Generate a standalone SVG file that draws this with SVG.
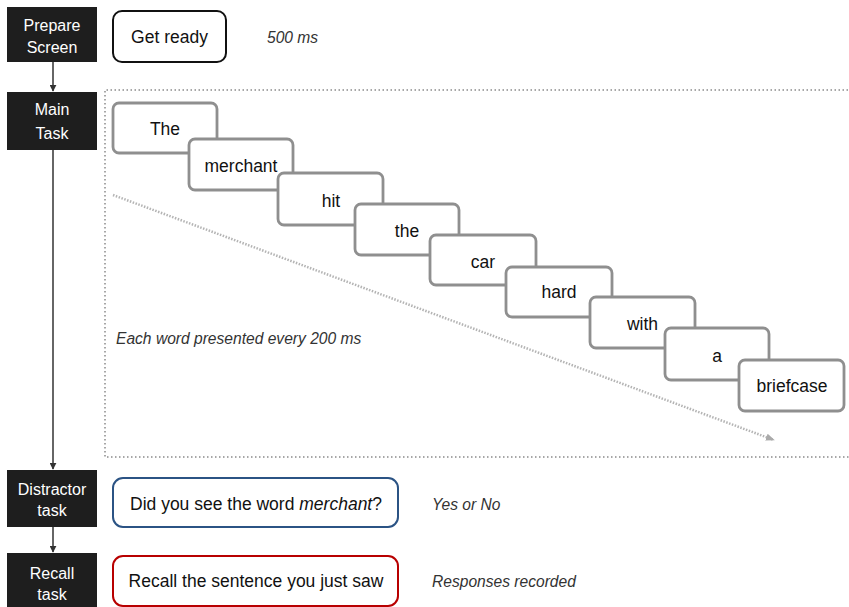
<svg xmlns="http://www.w3.org/2000/svg" width="849" height="607" viewBox="0 0 849 607">
<style>
.stage{fill:#1e1e1e}
.stage-t{font-family:"Liberation Sans",Arial,sans-serif;font-size:16px;fill:#fff;text-anchor:middle}
.word rect{fill:#fff;stroke:#8f8f8f;stroke-width:2.8}
.word text{font-family:"Liberation Sans",Arial,sans-serif;font-size:17.5px;fill:#111;text-anchor:middle}
.lbl{font-family:"Liberation Sans",Arial,sans-serif;font-size:17.5px;fill:#111;text-anchor:middle}
.note{font-family:"Liberation Sans",Arial,sans-serif;font-size:15.6px;font-style:italic;fill:#333}
.conn{stroke:#333;stroke-width:1.5;fill:none}
</style>
<defs>
<marker id="ah" viewBox="0 0 10 10" refX="9" refY="5" markerWidth="7" markerHeight="7" markerUnits="userSpaceOnUse" orient="auto">
<path d="M0,0 L10,5 L0,10 z" fill="#333"/>
</marker>
<marker id="ahg" viewBox="0 0 10 10" refX="9" refY="5" markerWidth="9" markerHeight="9" markerUnits="userSpaceOnUse" orient="auto">
<path d="M0,1 L10,5 L0,9 z" fill="#aaa"/>
</marker>
</defs>
<rect width="849" height="607" fill="#fff"/>

<g id="main-region">
<path d="M852,90 H105 V457 H852" fill="none" stroke="#8a8a8a" stroke-width="1.5" stroke-dasharray="1.5 2.5"/>
</g>

<g id="connectors">
<line class="conn" x1="53" y1="62" x2="53" y2="91" marker-end="url(#ah)"/>
<line class="conn" x1="53" y1="150" x2="53" y2="469" marker-end="url(#ah)"/>
<line class="conn" x1="53" y1="527" x2="53" y2="552" marker-end="url(#ah)"/>
<line x1="113" y1="195" x2="774" y2="440" stroke="#b4b4b4" stroke-width="2.5" stroke-dasharray="1.5 1.5" marker-end="url(#ahg)"/>
</g>

<g id="prepare-screen">
<rect class="stage" x="7" y="7" width="90" height="55"/>
<text class="stage-t" x="52" y="31">Prepare</text>
<text class="stage-t" x="52" y="53">Screen</text>
</g>
<g id="main-task">
<rect class="stage" x="7" y="92" width="90" height="58"/>
<text class="stage-t" x="52" y="115">Main</text>
<text class="stage-t" x="52" y="139">Task</text>
</g>
<g id="distractor-task">
<rect class="stage" x="7" y="470" width="90" height="57"/>
<text class="stage-t" x="52" y="495">Distractor</text>
<text class="stage-t" x="52" y="516">task</text>
</g>
<g id="recall-task">
<rect class="stage" x="7" y="553" width="90" height="56"/>
<text class="stage-t" x="52" y="579">Recall</text>
<text class="stage-t" x="52" y="600">task</text>
</g>

<g id="get-ready">
<rect x="113" y="11" width="113" height="51" rx="9" fill="#fff" stroke="#111" stroke-width="2"/>
<text class="lbl" x="169.5" y="43">Get ready</text>
</g>
<text class="note" x="267" y="43">500 ms</text>

<g id="w-the" class="word"><rect x="113" y="103" width="104" height="50" rx="6"/><text x="165" y="135">The</text></g>
<g id="w-merchant" class="word"><rect x="189" y="139" width="104" height="51" rx="6"/><text x="241" y="172">merchant</text></g>
<g id="w-hit" class="word"><rect x="278" y="173" width="105" height="52" rx="6"/><text x="331" y="207">hit</text></g>
<g id="w-the2" class="word"><rect x="355" y="204" width="104" height="51" rx="6"/><text x="407" y="237">the</text></g>
<g id="w-car" class="word"><rect x="430" y="235" width="106" height="50" rx="6"/><text x="483" y="268">car</text></g>
<g id="w-hard" class="word"><rect x="506" y="267" width="106" height="50" rx="6"/><text x="559" y="298">hard</text></g>
<g id="w-with" class="word"><rect x="590" y="297" width="105" height="51" rx="6"/><text x="642.5" y="330">with</text></g>
<g id="w-a" class="word"><rect x="665" y="328" width="104" height="52" rx="6"/><text x="717" y="362">a</text></g>
<g id="w-briefcase" class="word"><rect x="739" y="360" width="105" height="51" rx="6"/><text x="792" y="392">briefcase</text></g>

<text class="note" x="116" y="344">Each word presented every 200 ms</text>

<g id="distractor-question">
<rect x="113" y="478" width="285" height="49" rx="10" fill="#fff" stroke="#2b5384" stroke-width="2"/>
<text class="lbl" x="256" y="510">Did you see the word <tspan font-style="italic">merchant</tspan>?</text>
</g>
<text class="note" x="432" y="510">Yes or No</text>

<g id="recall-prompt">
<rect x="113" y="556" width="285" height="50" rx="10" fill="#fff" stroke="#b80000" stroke-width="2"/>
<text class="lbl" x="256" y="587">Recall the sentence you just saw</text>
</g>
<text class="note" x="432" y="587">Responses recorded</text>
</svg>
